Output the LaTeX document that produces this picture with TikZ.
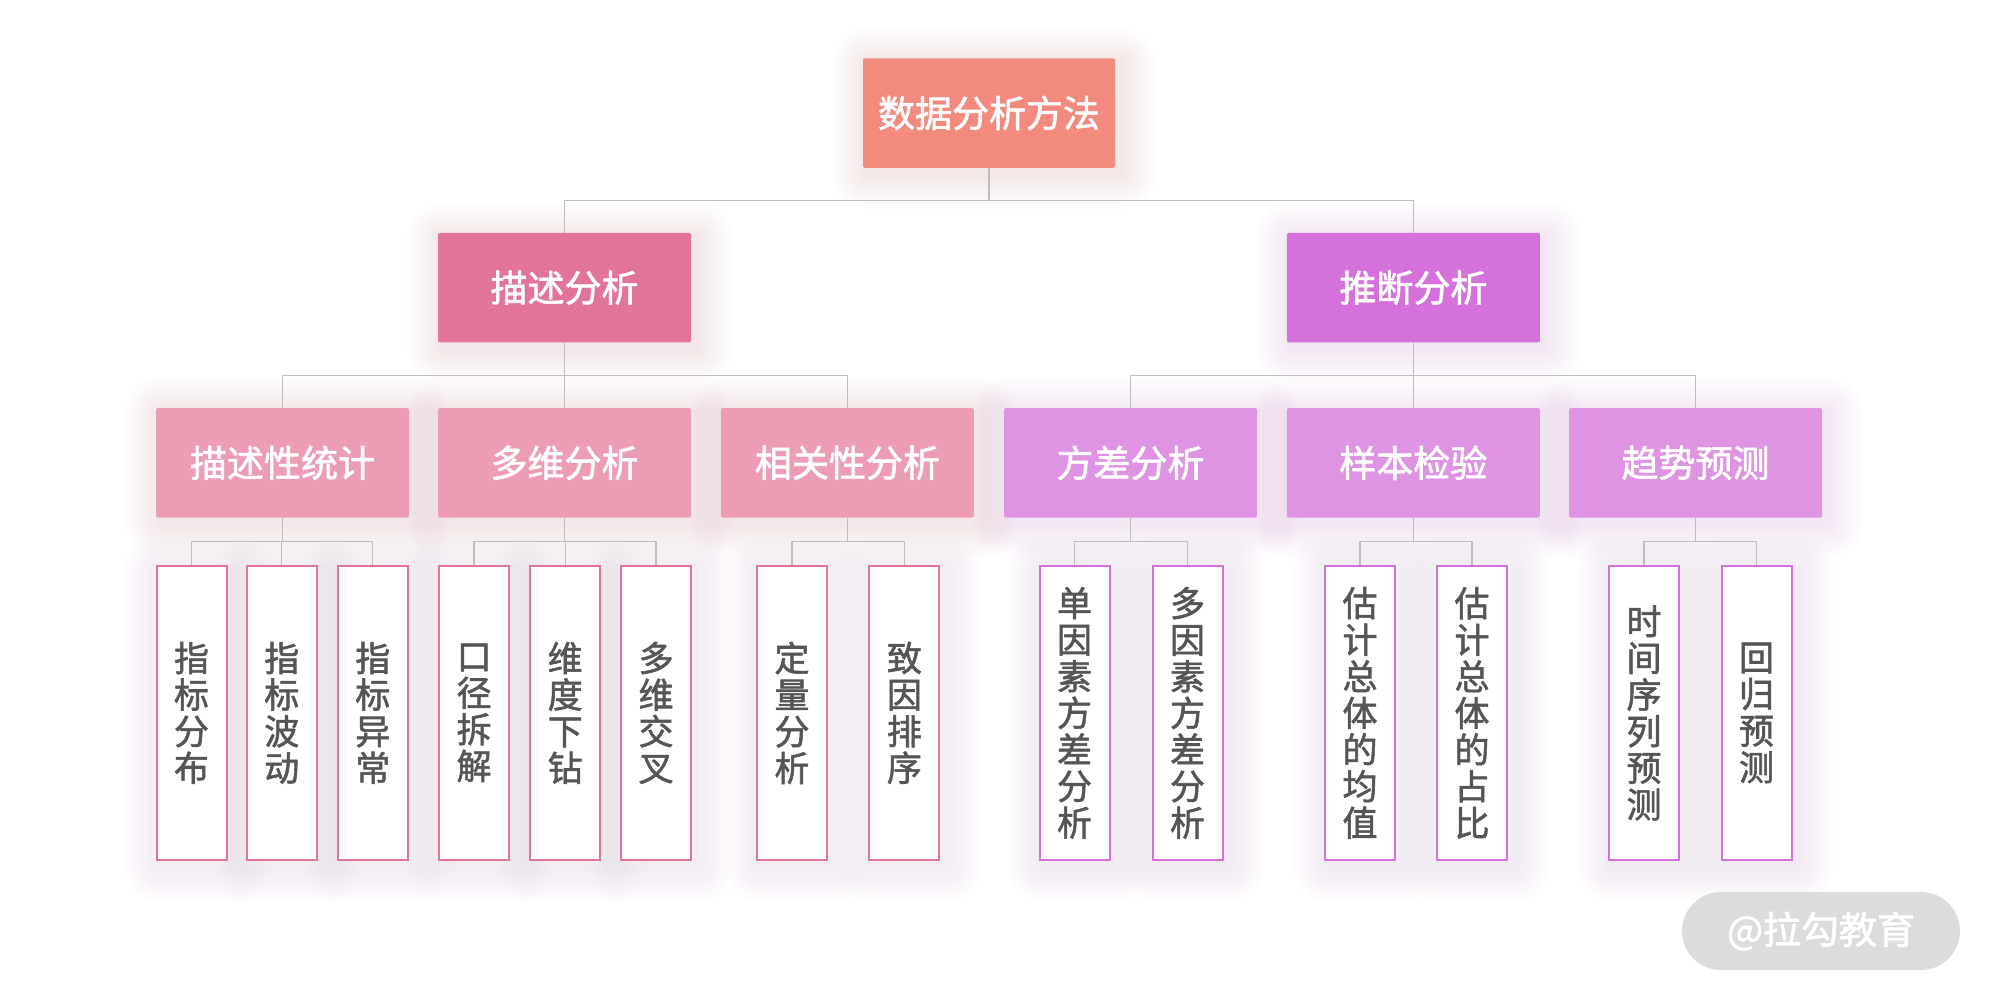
\documentclass[tikz,border=0pt]{standalone}
\usepackage{fontspec}
\setmainfont{Noto Sans CJK SC}
\newfontfamily\medfont[FakeBold=1.6]{Noto Sans CJK SC}
\usetikzlibrary{calc,backgrounds}
\definecolor{ctop}{HTML}{F28B7D}
\definecolor{cdesc}{HTML}{E37499}
\definecolor{cinf}{HTML}{D471DB}
\definecolor{cdescb}{HTML}{EC9DB4}
\definecolor{cinfb}{HTML}{DE93E3}
\definecolor{linegray}{HTML}{BDBDBD}
\definecolor{leafgray}{HTML}{555555}
\definecolor{wmgray}{HTML}{DCDCDC}
\newcommand\boxglow[3]{%
  \foreach \i in {1,...,12}{%
    \pgfmathsetmacro\r{\i*3}%
    \fill[#2,opacity=#3,rounded corners=\r pt]
      ($(#1.south west)+(-\r+5,\r+5)$) rectangle ($(#1.north east)+(\r+5,-\r+5)$);}}
\tikzset{
  conn/.style={draw=linegray, line width=1.3pt},
  tree/.style={to path={(\tikztostart) |- ($(\tikztostart)!.5!(\tikztotarget)$) -| (\tikztotarget)}},
  head/.style={inner sep=0pt, minimum width=253pt, minimum height=109.5pt,
    rounded corners=2pt, text=white, font=\medfont\fontsize{37}{40}\selectfont},
  leaf/.style={draw=#1, fill=white, line width=2pt, inner sep=0pt,
    minimum width=70pt, minimum height=294pt, align=center, text=leafgray,
    font=\medfont\fontsize{35}{36.6}\selectfont},
}
\begin{document}
\begin{tikzpicture}[x=1pt,y=-1pt]
\useasboundingbox (0,0) rectangle (1989,997);
% level 0 and 1
\node[head, fill=ctop, minimum width=252pt] (root) at (989,113) {数据分析方法};
\node[head, fill=cdesc] (desc) at (564.5,287.7) {描述分析};
\node[head, fill=cinf] (inf) at (1413.4,287.7) {推断分析};
% level 2
\node[head, fill=cdescb] (s1) at (282.5,462.8) {描述性统计};
\node[head, fill=cdescb] (s2) at (564.5,462.8) {多维分析};
\node[head, fill=cdescb] (s3) at (847.4,462.8) {相关性分析};
\node[head, fill=cinfb] (s4) at (1130.5,462.8) {方差分析};
\node[head, fill=cinfb] (s5) at (1413.3,462.8) {样本检验};
\node[head, fill=cinfb] (s6) at (1695.5,462.8) {趋势预测};
% leaves
\node[leaf=cdesc] (l11) at (191.5,712.9) {指\\标\\分\\布};
\node[leaf=cdesc] (l12) at (281.8,712.9) {指\\标\\波\\动};
\node[leaf=cdesc] (l13) at (372.8,712.9) {指\\标\\异\\常};
\node[leaf=cdesc] (l21) at (474.1,712.9) {口\\径\\拆\\解};
\node[leaf=cdesc] (l22) at (565.2,712.9) {维\\度\\下\\钻};
\node[leaf=cdesc] (l23) at (656.1,712.9) {多\\维\\交\\叉};
\node[leaf=cdesc] (l31) at (792,712.9) {定\\量\\分\\析};
\node[leaf=cdesc] (l32) at (904.4,712.9) {致\\因\\排\\序};
\node[leaf=cinf] (l41) at (1074.5,712.9) {单\\因\\素\\方\\差\\分\\析};
\node[leaf=cinf] (l42) at (1187.5,712.9) {多\\因\\素\\方\\差\\分\\析};
\node[leaf=cinf] (l51) at (1360,712.9) {估\\计\\总\\体\\的\\均\\值};
\node[leaf=cinf] (l52) at (1472,712.9) {估\\计\\总\\体\\的\\占\\比};
\node[leaf=cinf] (l61) at (1644,712.9) {时\\间\\序\\列\\预\\测};
\node[leaf=cinf] (l62) at (1756.5,712.9) {回\\归\\预\\测};
% watermark
\node[fill=wmgray, rounded corners=39pt, minimum width=278pt, minimum height=78pt,
  inner sep=0pt, text=white, font=\medfont\fontsize{38}{40}\selectfont] (wm) at (1821,931) {@拉勾教育};
\begin{scope}[on background layer]
  \fill[white] (0,0) rectangle (1989,997);
  \boxglow{root}{ctop}{0.013}
  \boxglow{desc}{cdesc}{0.013}
  \boxglow{inf}{cinf}{0.013}
  \foreach \n in {s1,s2,s3}{\boxglow{\n}{cdesc}{0.011}}
  \foreach \n in {s4,s5,s6}{\boxglow{\n}{cinf}{0.011}}
  \foreach \n in {l11,l12,l13,l21,l22,l23,l31,l32}{\boxglow{\n}{cdesc}{0.008}}
  \foreach \n in {l41,l42,l51,l52,l61,l62}{\boxglow{\n}{cinf}{0.008}}
  % connectors
  \draw[conn] (root.south) to[tree] (desc.north);
  \draw[conn] (root.south) to[tree] (inf.north);
  \foreach \c in {s1,s2,s3}{\draw[conn] (desc.south) to[tree] (\c.north);}
  \foreach \c in {s4,s5,s6}{\draw[conn] (inf.south) to[tree] (\c.north);}
  \foreach \c in {l11,l12,l13}{\draw[conn] (s1.south) to[tree] (\c.north);}
  \foreach \c in {l21,l22,l23}{\draw[conn] (s2.south) to[tree] (\c.north);}
  \foreach \c in {l31,l32}{\draw[conn] (s3.south) to[tree] (\c.north);}
  \foreach \c in {l41,l42}{\draw[conn] (s4.south) to[tree] (\c.north);}
  \foreach \c in {l51,l52}{\draw[conn] (s5.south) to[tree] (\c.north);}
  \foreach \c in {l61,l62}{\draw[conn] (s6.south) to[tree] (\c.north);}
\end{scope}
\end{tikzpicture}
\end{document}
